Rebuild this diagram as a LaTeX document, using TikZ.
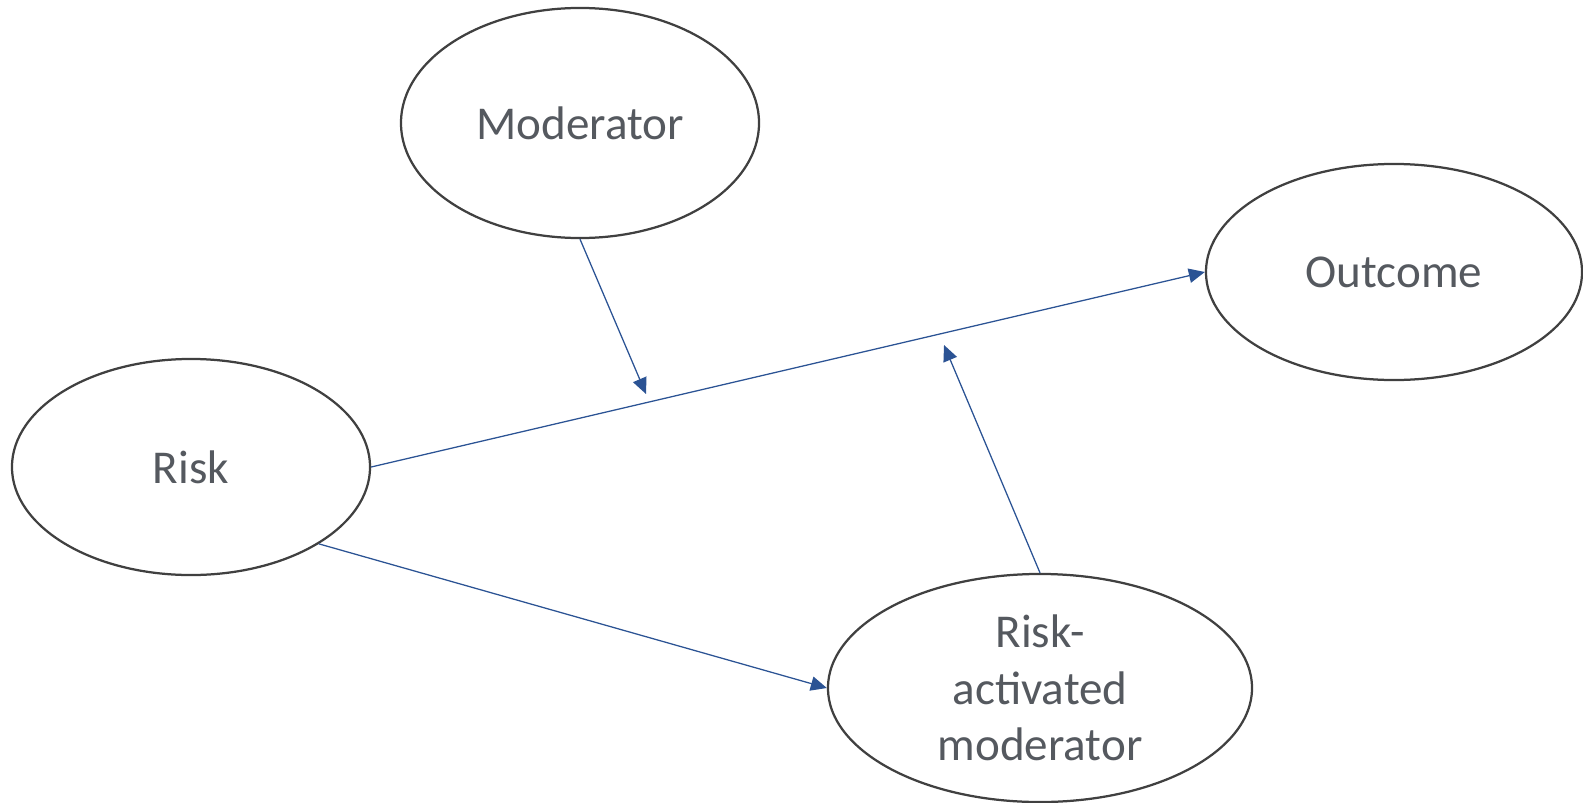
\documentclass[tikz,border=0pt]{standalone}
\usepackage{fontspec}
\setmainfont{Carlito}
\usepackage{tikz}
\usetikzlibrary{arrows.meta,positioning,shapes.geometric}
\usepackage{xcolor}
\definecolor{ink}{HTML}{55595F}
\definecolor{rim}{HTML}{404040}
\definecolor{edge}{HTML}{2B5394}

\begin{document}
\begin{tikzpicture}[x=0.025cm,y=-0.025cm, var/.style={ellipse,draw=rim,line width=1.6pt,inner sep=0pt,font=\fontsize{33.5}{40}\selectfont,text=ink,align=center}, path/.style={-{Triangle[length=0.4cm,width=0.36cm]},edge,line width=0.9pt}]
  \useasboundingbox (0,0) rectangle (1583,802);
  \node[var,minimum width=8.95cm,minimum height=5.75cm] (mod) at (580,123) {Moderator};
  \node[var,minimum width=9.4cm,minimum height=5.4cm] (out) at (1394,272) {Outcome};
  \node[var,minimum width=8.95cm,minimum height=5.4cm] (risk) at (191,467) {Risk};
  \node[var,minimum width=10.6cm,minimum height=5.7cm] (ram) at (1040,688) {Risk-\\activated\\moderator};
  \coordinate (m) at (646,394);
  \coordinate (r) at (944,345);
  \draw[path] (risk.east) -- (out.west);
  \draw[path] (mod.south) -- (m);
  \draw[path] (risk.-31) -- (ram.west);
  \draw[path] (ram.north) -- (r);
\end{tikzpicture}
\end{document}
